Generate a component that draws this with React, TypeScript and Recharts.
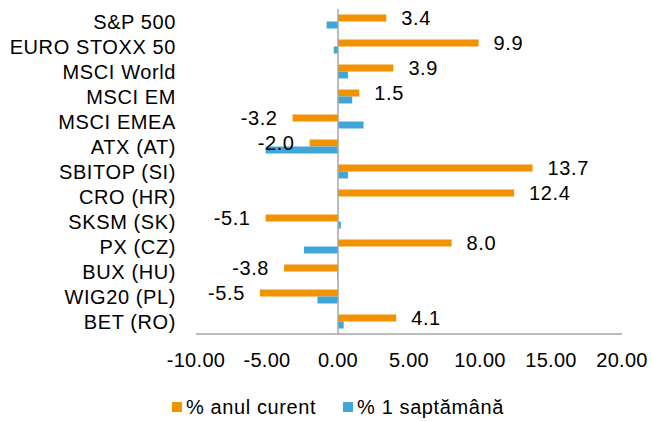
import { Bar, BarChart, LabelList, Legend, ReferenceLine, XAxis, YAxis } from "recharts";

const indices = [
  "S&P 500",
  "EURO STOXX 50",
  "MSCI World",
  "MSCI EM",
  "MSCI EMEA",
  "ATX (AT)",
  "SBITOP (SI)",
  "CRO (HR)",
  "SKSM (SK)",
  "PX (CZ)",
  "BUX (HU)",
  "WIG20 (PL)",
  "BET (RO)",
];
const ytdChange = [3.4, 9.9, 3.9, 1.5, -3.2, -2.0, 13.7, 12.4, -5.1, 8.0, -3.8, -5.5, 4.1];
const weekChange = [-0.8, -0.3, 0.7, 1.0, 1.8, -5.1, 0.7, 0, 0.2, -2.4, -0.05, -1.45, 0.4];
const xTicks = [-10, -5, 0, 5, 10, 15, 20];
const seriesNames = ["% anul curent", "% 1 saptămână"];

const ORANGE = "#F39200";
const BLUE = "#40A6DA";
const AXIS = "#A6A6A6";
const FONT = "'Liberation Sans', Arial, sans-serif";

const data = indices.map((name, i) => ({
  name,
  ytd: ytdChange[i],
  week: weekChange[i],
}));

const tickStyle = { fontSize: 20, fill: "#000", fontFamily: FONT };

// legend drawn by hand so the squares sit where Excel put them
function LegendBox() {
  const colors = [ORANGE, BLUE];
  return (
    <div style={{ display: "flex", alignItems: "center", height: 24, paddingLeft: 172, fontSize: 20 }}>
      {seriesNames.map((s, i) => (
        <div key={s} style={{ display: "flex", alignItems: "center", marginRight: 27 }}>
          <span style={{ width: 10, height: 10, background: colors[i], marginRight: 4, display: "inline-block" }} />
          <span>{s}</span>
        </div>
      ))}
    </div>
  );
}

export default function App() {
  // fixed box covering the whole window, so nothing overflows into scrollbars
  return (
    <div
      style={{
        position: "fixed",
        top: 0,
        left: 0,
        width: 651,
        height: 421,
        overflow: "hidden",
        fontFamily: FONT,
        letterSpacing: 0.6,
        color: "#000",
        background: "#fff",
      }}
    >
      <BarChart
        width={651}
        height={421}
        data={data}
        layout="vertical"
        margin={{ top: 9, right: 29, left: 0, bottom: 2 }}
        barCategoryGap="22%"
        barGap={0}
      >
        <XAxis
          type="number"
          domain={[-10, 20]}
          ticks={xTicks}
          tickFormatter={(v: number) => v.toFixed(2)}
          tick={{ ...tickStyle, letterSpacing: 0.3 }}
          axisLine={{ stroke: AXIS, strokeWidth: 1.5 }}
          tickLine={false}
          tickSize={0}
          tickMargin={19}
          height={61}
          interval={0}
        />
        <YAxis
          type="category"
          dataKey="name"
          width={196}
          tick={tickStyle}
          axisLine={false}
          tickLine={false}
          tickSize={0}
          tickMargin={20}
          interval={0}
        />
        <ReferenceLine x={0} stroke={AXIS} strokeWidth={1.5} />
        <Bar dataKey="ytd" name={seriesNames[0]} fill={ORANGE} isAnimationActive={false}>
          <LabelList
            dataKey="ytd"
            position="right"
            offset={15}
            formatter={(v: number) => v.toFixed(1)}
            style={{ fontSize: 20, fill: "#000", fontFamily: FONT }}
          />
        </Bar>
        <Bar dataKey="week" name={seriesNames[1]} fill={BLUE} isAnimationActive={false} />
        <Legend verticalAlign="bottom" content={() => <LegendBox />} />
      </BarChart>
    </div>
  );
}
